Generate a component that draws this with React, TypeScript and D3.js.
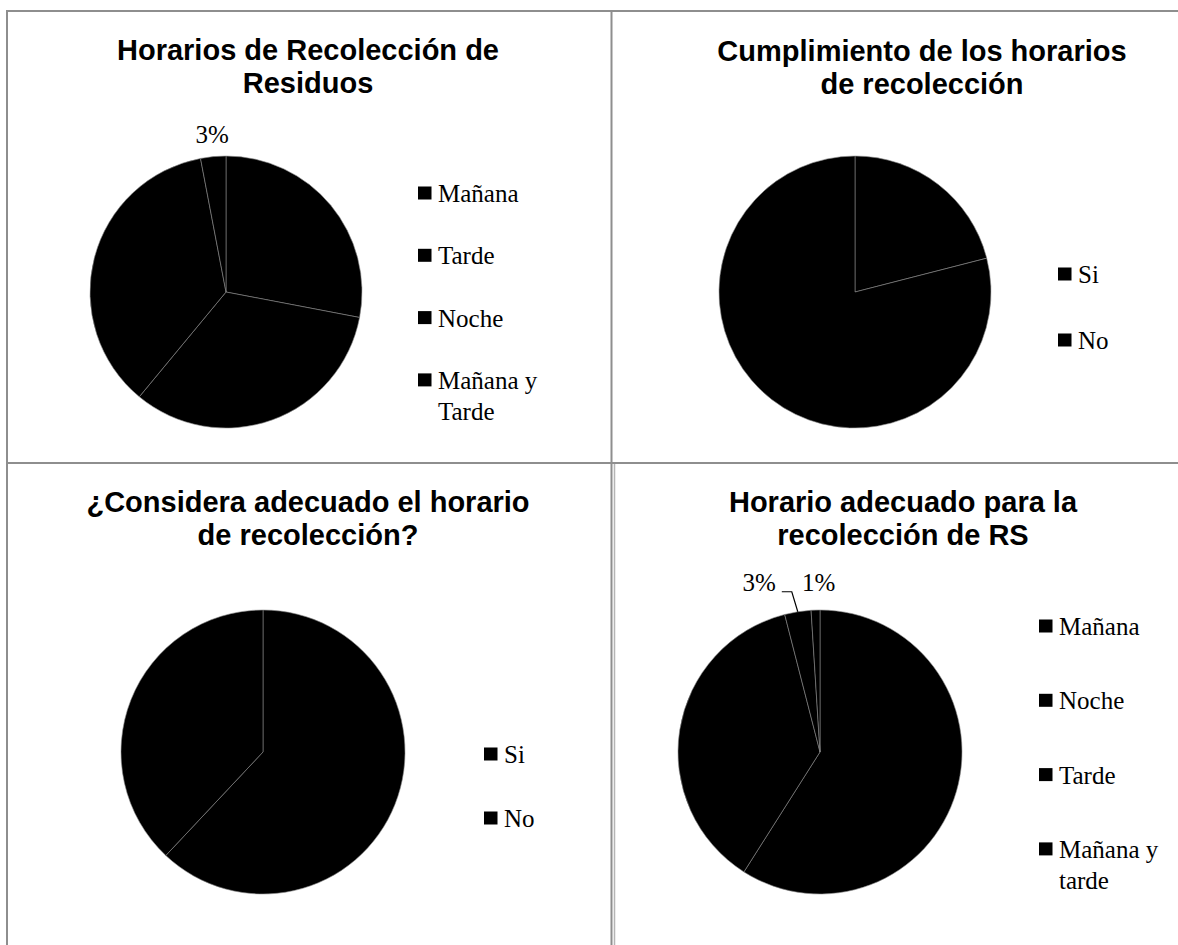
import React from "react";
import * as d3 from "d3";

// ---- Data ----
const chart1Title = ["Horarios de Recolección de", "Residuos"];
const chart1Categories = ["Mañana", "Tarde", "Noche", "Mañana y Tarde"];
const chart1Values = [28, 33, 36, 3];
const chart1ShownLabels = ["Mañana y Tarde"];

const chart2Title = ["Cumplimiento de los horarios", "de recolección"];
const chart2Categories = ["Si", "No"];
const chart2Values = [21, 79];
const chart2ShownLabels: string[] = [];

const chart3Title = ["¿Considera adecuado el horario", "de recolección?"];
const chart3Categories = ["Si", "No"];
const chart3Values = [62, 38];
const chart3ShownLabels: string[] = [];

const chart4Title = ["Horario adecuado para la", "recolección de RS"];
const chart4Categories = ["Mañana", "Noche", "Tarde", "Mañana y tarde"];
const chart4Values = [59, 37, 3, 1];
const chart4ShownLabels = ["Tarde", "Mañana y tarde"];

// ---- Layout ----
type LabelStyle = { mode: "radial"; extra: number; dx: number } | { mode: "leader" };
type Panel = {
  title: string[];
  categories: string[];
  values: number[];
  shown: string[];
  titleX: number;
  titleY: number;
  cx: number;
  cy: number;
  r: number;
  legendX: number;
  legendY: number;
  legendStep: number;
  labelStyles: Record<string, LabelStyle>;
};

const panels: Panel[] = [
  {
    title: chart1Title, categories: chart1Categories, values: chart1Values, shown: chart1ShownLabels,
    titleX: 308, titleY: 60, cx: 226, cy: 292, r: 136,
    legendX: 418, legendY: 202, legendStep: 62.3,
    labelStyles: { "Mañana y Tarde": { mode: "radial", extra: 22, dx: 1 } },
  },
  {
    title: chart2Title, categories: chart2Categories, values: chart2Values, shown: chart2ShownLabels,
    titleX: 922, titleY: 61, cx: 855, cy: 292, r: 136,
    legendX: 1058, legendY: 283, legendStep: 66,
    labelStyles: {},
  },
  {
    title: chart3Title, categories: chart3Categories, values: chart3Values, shown: chart3ShownLabels,
    titleX: 308, titleY: 512, cx: 263, cy: 752, r: 142,
    legendX: 484, legendY: 763, legendStep: 64,
    labelStyles: {},
  },
  {
    title: chart4Title, categories: chart4Categories, values: chart4Values, shown: chart4ShownLabels,
    titleX: 903, titleY: 512, cx: 820, cy: 752, r: 142,
    legendX: 1039, legendY: 635, legendStep: 74.3,
    labelStyles: {
      Tarde: { mode: "leader" },
      "Mañana y tarde": { mode: "radial", extra: 28, dx: 4 },
    },
  },
];

const TITLE_FONT = "'Liberation Sans', Arial, sans-serif";
const BODY_FONT = "'Liberation Serif', 'Times New Roman', serif";
const BORDER = "#8e8e8e";

function splitLegend(label: string): string[] {
  const parts = label.split(" ");
  if (parts.length <= 2) return [label];
  return [parts.slice(0, parts.length - 1).join(" "), parts[parts.length - 1]];
}

function PieChart({ p }: { p: Panel }) {
  const pie = d3.pie<number>().sort(null).value((d) => d);
  const arcs = pie(p.values);
  const arc = d3.arc<d3.PieArcDatum<number>>().innerRadius(0).outerRadius(p.r);
  const total = d3.sum(p.values);

  return (
    <g>
      <text fontFamily={TITLE_FONT} fontWeight="bold" fontSize={29} textAnchor="middle" fill="#000">
        {p.title.map((t, i) => (
          <tspan key={i} x={p.titleX} y={p.titleY + i * 33}>{t}</tspan>
        ))}
      </text>
      <g transform={`translate(${p.cx},${p.cy})`}>
        {arcs.map((a, i) => (
          <path key={i} d={arc(a) || ""} fill="#000" stroke="#8a8a8a" strokeWidth={0.6} />
        ))}
        {arcs.map((a, i) => {
          const cat = p.categories[i];
          if (!p.shown.includes(cat)) return null;
          const pct = `${Math.round((a.data / total) * 100)}%`;
          const mid = (a.startAngle + a.endAngle) / 2;
          const st = p.labelStyles[cat];
          if (st && st.mode === "leader") {
            const ax = p.r * Math.sin(mid);
            const ay = -p.r * Math.cos(mid);
            const bx = ax - 6;
            const by = ay - 20;
            const ex = bx - 10;
            return (
              <g key={"l" + i}>
                <polyline points={`${ax},${ay} ${bx},${by} ${ex},${by}`} fill="none" stroke="#000" strokeWidth={1.2} />
                <text x={ex - 6} y={by - 1} textAnchor="end" fontFamily={BODY_FONT} fontSize={25} fill="#000">{pct}</text>
              </g>
            );
          }
          const extra = st && st.mode === "radial" ? st.extra : 20;
          const dx = st && st.mode === "radial" ? st.dx : 0;
          const lr = p.r + extra;
          const x = lr * Math.sin(mid) + dx;
          const y = -lr * Math.cos(mid);
          return (
            <text key={"l" + i} x={x} y={y + 8.5} textAnchor="middle" fontFamily={BODY_FONT} fontSize={25} fill="#000">{pct}</text>
          );
        })}
      </g>
      <g>
        {p.categories.map((c, i) => {
          const lines = splitLegend(c);
          const by = p.legendY + i * p.legendStep;
          return (
            <g key={c}>
              <rect x={p.legendX} y={by - 15.5} width={13.5} height={13} fill="#000" />
              <text fontFamily={BODY_FONT} fontSize={25} fill="#000">
                {lines.map((l, j) => (
                  <tspan key={j} x={p.legendX + 20} y={by + j * 31}>{l}</tspan>
                ))}
              </text>
            </g>
          );
        })}
      </g>
    </g>
  );
}

export default function App() {
  const W = 1178;
  const H = 945;
  return (
    <div style={{ position: "absolute", left: 0, top: 0, width: W, height: H, background: "#fff" }}>
      <svg width={W} height={H} viewBox={`0 0 ${W} ${H}`} style={{ display: "block" }}>
        <rect x={0} y={0} width={W} height={H} fill="#fff" />
        <line x1={6} y1={11} x2={W} y2={11} stroke={BORDER} strokeWidth={2} />
        <line x1={7} y1={10} x2={7} y2={H} stroke={BORDER} strokeWidth={2} />
        <line x1={611.5} y1={10} x2={611.5} y2={H} stroke={BORDER} strokeWidth={2} />
        <line x1={614.5} y1={464} x2={614.5} y2={H} stroke="#b5b5b5" strokeWidth={1.5} />
        <line x1={6} y1={463} x2={W} y2={463} stroke={BORDER} strokeWidth={2} />
        {panels.map((p, i) => (
          <PieChart key={i} p={p} />
        ))}
      </svg>
    </div>
  );
}
